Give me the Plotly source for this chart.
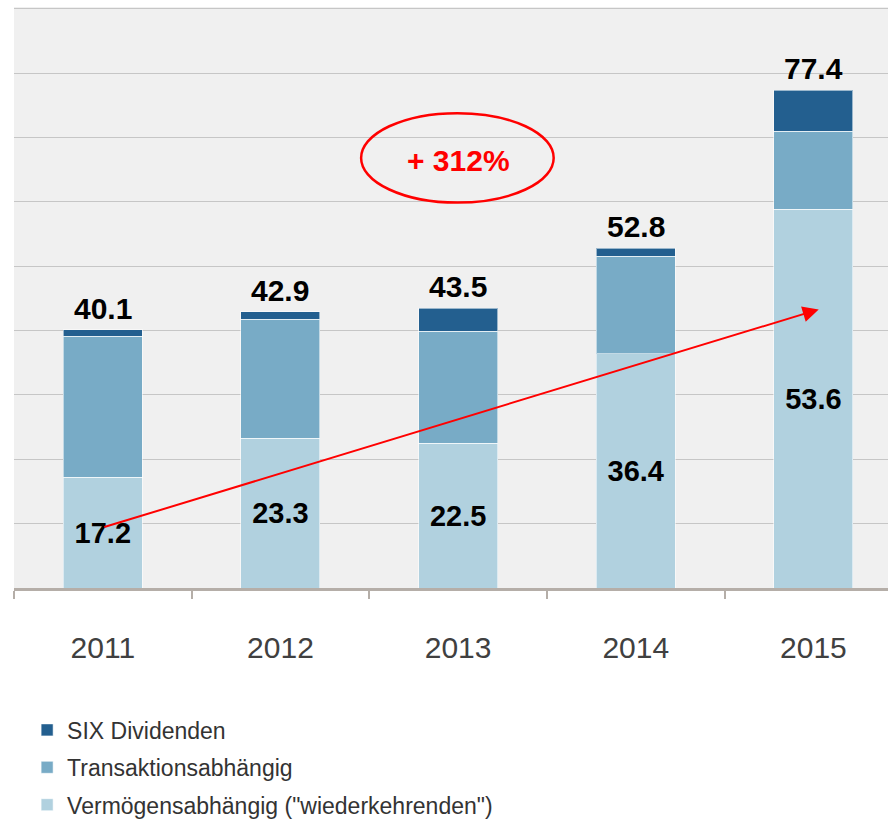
import plotly.graph_objects as go

years = ["2011", "2012", "2013", "2014", "2015"]
verm = [17.2, 23.3, 22.5, 36.4, 58.9]
trans = [21.9, 18.5, 17.4, 15.2, 12.1]
divid = [1.0, 1.1, 3.6, 1.2, 6.4]
verm_labels = ["17.2", "23.3", "22.5", "36.4", "53.6"]
totals = [40.1, 42.9, 43.5, 52.8, 77.4]
total_labels = ["40.1", "42.9", "43.5", "52.8", "77.4"]
growth_label = "+ 312%"

FONT = "Liberation Sans, Arial, sans-serif"
edge = dict(color="rgba(255,255,255,0.55)", width=1)

fig = go.Figure()
fig.add_trace(go.Bar(
    x=years, y=verm, name='Vermögensabhängig ("wiederkehrenden")',
    legendgroup="v", legendrank=3,
    marker=dict(color="#b1d1df", line=edge), width=0.445,
    text=["<b>" + t + "</b>" for t in verm_labels], textposition="inside",
    insidetextanchor="middle", constraintext="none",
    textfont=dict(family=FONT, size=29, color="#000000"),
))
fig.add_trace(go.Bar(
    x=years, y=trans, name="Transaktionsabhängig", legendgroup="t", legendrank=2,
    marker=dict(color="#78abc6", line=edge), width=0.445,
))
fig.add_trace(go.Bar(
    x=years, y=divid, name="SIX Dividenden", legendgroup="d", legendrank=1,
    marker=dict(color="#235f8f", line=edge), width=0.445,
))

for i, (tot, lab) in enumerate(zip(totals, total_labels)):
    fig.add_annotation(x=i, y=tot, xref="x", yref="y", yanchor="bottom", yshift=3,
                       showarrow=False, text="<b>" + lab + "</b>",
                       font=dict(family=FONT, size=30, color="#000000"))

# growth arrow
fig.add_annotation(
    x=4.03, y=43.3, ax=0, ay=9.4, xref="x", yref="y", axref="x", ayref="y",
    showarrow=True, arrowhead=2, arrowsize=1.6, arrowwidth=2, arrowcolor="#ff0000",
    text="",
)
# ellipse with growth label
fig.add_shape(type="circle", xref="x", yref="y", x0=1.454, x1=2.538, y0=59.9, y1=73.8,
              line=dict(color="#ff0000", width=2.5))
fig.add_annotation(x=2, y=66.5, xref="x", yref="y", showarrow=False,
                   text="<b>" + growth_label + "</b>",
                   font=dict(family=FONT, size=30, color="#ff0000"))

fig.update_layout(
    width=888, height=819,
    margin=dict(l=14, r=0, t=7, b=231),
    barmode="stack", bargap=0.5,
    paper_bgcolor="#ffffff", plot_bgcolor="#f0f0f0",
    font=dict(family=FONT, color="#404040"),
    showlegend=True,
    legend=dict(
        orientation="v", x=0.015, xanchor="left",
        yref="container", y=0.135, yanchor="top",
        traceorder="grouped", tracegroupgap=4.5,
        font=dict(family=FONT, size=23, color="#333333"),
        bgcolor="rgba(0,0,0,0)",
    ),
    xaxis=dict(
        type="category", range=[-0.5, 4.42],
        showline=True, linecolor="#b5aea8", linewidth=2.5,
        ticks="outside", tickson="boundaries", ticklen=8, tickwidth=2, tickcolor="#b5aea8",
        tickfont=dict(family=FONT, size=30, color="#404040"),
        ticklabelstandoff=31, showgrid=False, zeroline=False,
    ),
    yaxis=dict(
        range=[0, 90.3], dtick=10, showgrid=True, gridcolor="#c6c6c6", gridwidth=1.2,
        showticklabels=False, zeroline=False, showline=False, ticks="",
    ),
)

fig.write_html("out.html", config={"displayModeBar": False},
               post_script="document.body.style.margin='0';document.body.style.overflow='hidden';")
